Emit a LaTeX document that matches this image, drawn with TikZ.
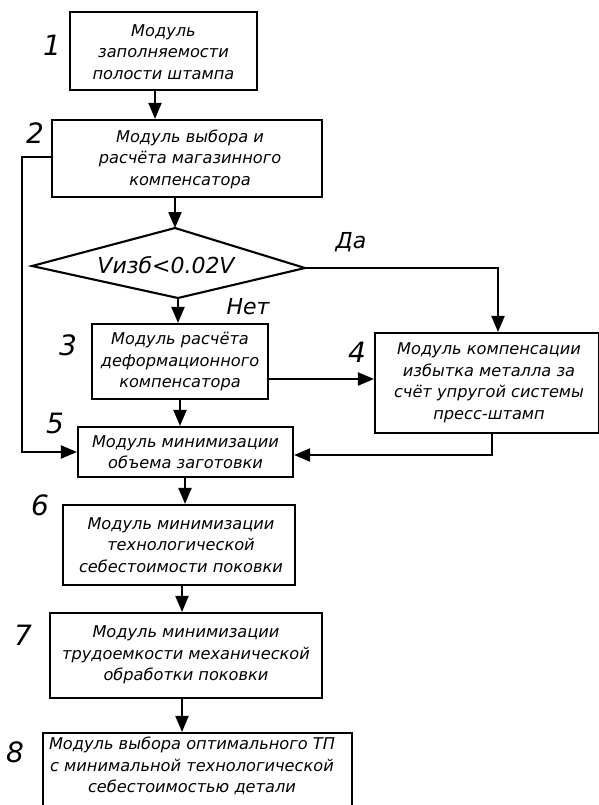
\documentclass[tikz,border=0pt]{standalone}
\usepackage{fontspec}
\setmainfont{DejaVu Sans}
\usetikzlibrary{arrows.meta}
\begin{document}
\begin{tikzpicture}[x=1pt,y=-1pt,
  box/.style={draw,line width=2.1pt,inner sep=0pt},
  txt/.style={align=center,font=\itshape\fontsize{16.2}{21.5}\selectfont,inner sep=0pt},
  num/.style={font=\itshape\fontsize{28}{28}\selectfont,inner sep=0pt},
  lbl/.style={font=\itshape\fontsize{22}{22}\selectfont,inner sep=0pt},
  arr/.style={line width=2.1pt,-{Triangle[length=16pt,width=13pt]}},
  ln/.style={line width=2.1pt}]
\useasboundingbox[fill=white] (0,0) rectangle (598,805);
% boxes
\node[box,minimum width=187pt,minimum height=78pt] (B1) at (163.5,51) {};
\node[txt] (T1) at (163.5,52) {Модуль\\заполняемости\\полости штампа};
\node[box,minimum width=270pt,minimum height=77pt] (B2) at (187,158.5) {};
\node[txt] (T2) at (190,159) {Модуль выбора и\\расчёта магазинного\\компенсатора};
% diamond
\coordinate (dt) at (175,228);
\coordinate (dl) at (32,266);
\coordinate (dr) at (305,268);
\coordinate (db) at (178,298);
\draw[ln,line join=miter] (dt) -- (dr) -- (db) -- (dl) -- cycle;
\node[lbl] (D) at (166,265) {Vизб<0.02V};
\node[box,minimum width=176pt,minimum height=75pt] (B3) at (180,361.5) {};
\node[txt] (T3) at (180,362) {Модуль расчёта\\деформационного\\компенсатора};
\node[box,minimum width=224pt,minimum height=100pt] (B4) at (487,383) {};
\node[txt] (T4) at (489,383) {Модуль компенсации\\избытка металла за\\счёт упругой системы\\пресс-штамп};
\node[box,minimum width=215pt,minimum height=50pt] (B5) at (185.5,452) {};
\node[txt] (T5) at (185.5,452) {Модуль минимизации\\объема заготовки};
\node[box,minimum width=232pt,minimum height=80pt] (B6) at (179,545) {};
\node[txt] (T6) at (181,545) {Модуль минимизации\\технологической\\себестоимости поковки};
\node[box,minimum width=272pt,minimum height=85pt] (B7) at (186,655.5) {};
\node[txt] (T7) at (186,655) {Модуль минимизации\\трудоемкости механической\\обработки поковки};
\node[box,minimum width=309pt,minimum height=97pt] (B8) at (197.5,781.5) {};
\node[txt] (T8) at (192,766) {Модуль выбора оптимального ТП\\с минимальной технологической\\себестоимостью детали};
% numbers
\node[num] (n1) at (52,45) {1};
\node[num] (n2) at (35,133) {2};
\node[num] (n3) at (68,345) {3};
\node[num] (n4) at (357,352) {4};
\node[num] (n5) at (55,423) {5};
\node[num] (n6) at (40,505) {6};
\node[num] (n7) at (23,635) {7};
\node[num] (n8) at (15,752) {8};
\node[lbl] (da) at (351,242) {Да};
\node[lbl] (net) at (248,307) {Нет};
% helper coordinates
\coordinate (x1) at (155,0);
\coordinate (x2) at (175,0);
\coordinate (x3) at (178,0);
\coordinate (x4) at (180,0);
\coordinate (x5) at (185,0);
\coordinate (x6) at (182,0);
\coordinate (lx) at (22,157);
\coordinate (ly) at (22,452);
\coordinate (rx) at (498,268);
\coordinate (y34) at (0,379);
\coordinate (b4x) at (492,433);
\coordinate (b4y) at (492,455);
% connectors
\draw[arr] (B1.south -| x1) -- (B2.north -| x1);
\draw[arr] (B2.south -| x2) -- (dt);
\draw[arr] (db) -- (B3.north -| x3);
\draw[arr] (B3.south -| x4) -- (B5.north -| x4);
\draw[arr] (B5.south -| x5) -- (B6.north -| x5);
\draw[arr] (B6.south -| x6) -- (B7.north -| x6);
\draw[arr] (B7.south -| x6) -- (B8.north -| x6);
\draw[arr] (B2.west |- lx) -- (lx) -- (ly) -- (B5.west |- ly);
\draw[arr] (dr) -- (rx) -- (B4.north -| rx);
\draw[arr] (B3.east |- y34) -- (B4.west |- y34);
\draw[arr] (b4x) -- (b4y) -- (B5.east |- b4y);
\end{tikzpicture}
\end{document}
